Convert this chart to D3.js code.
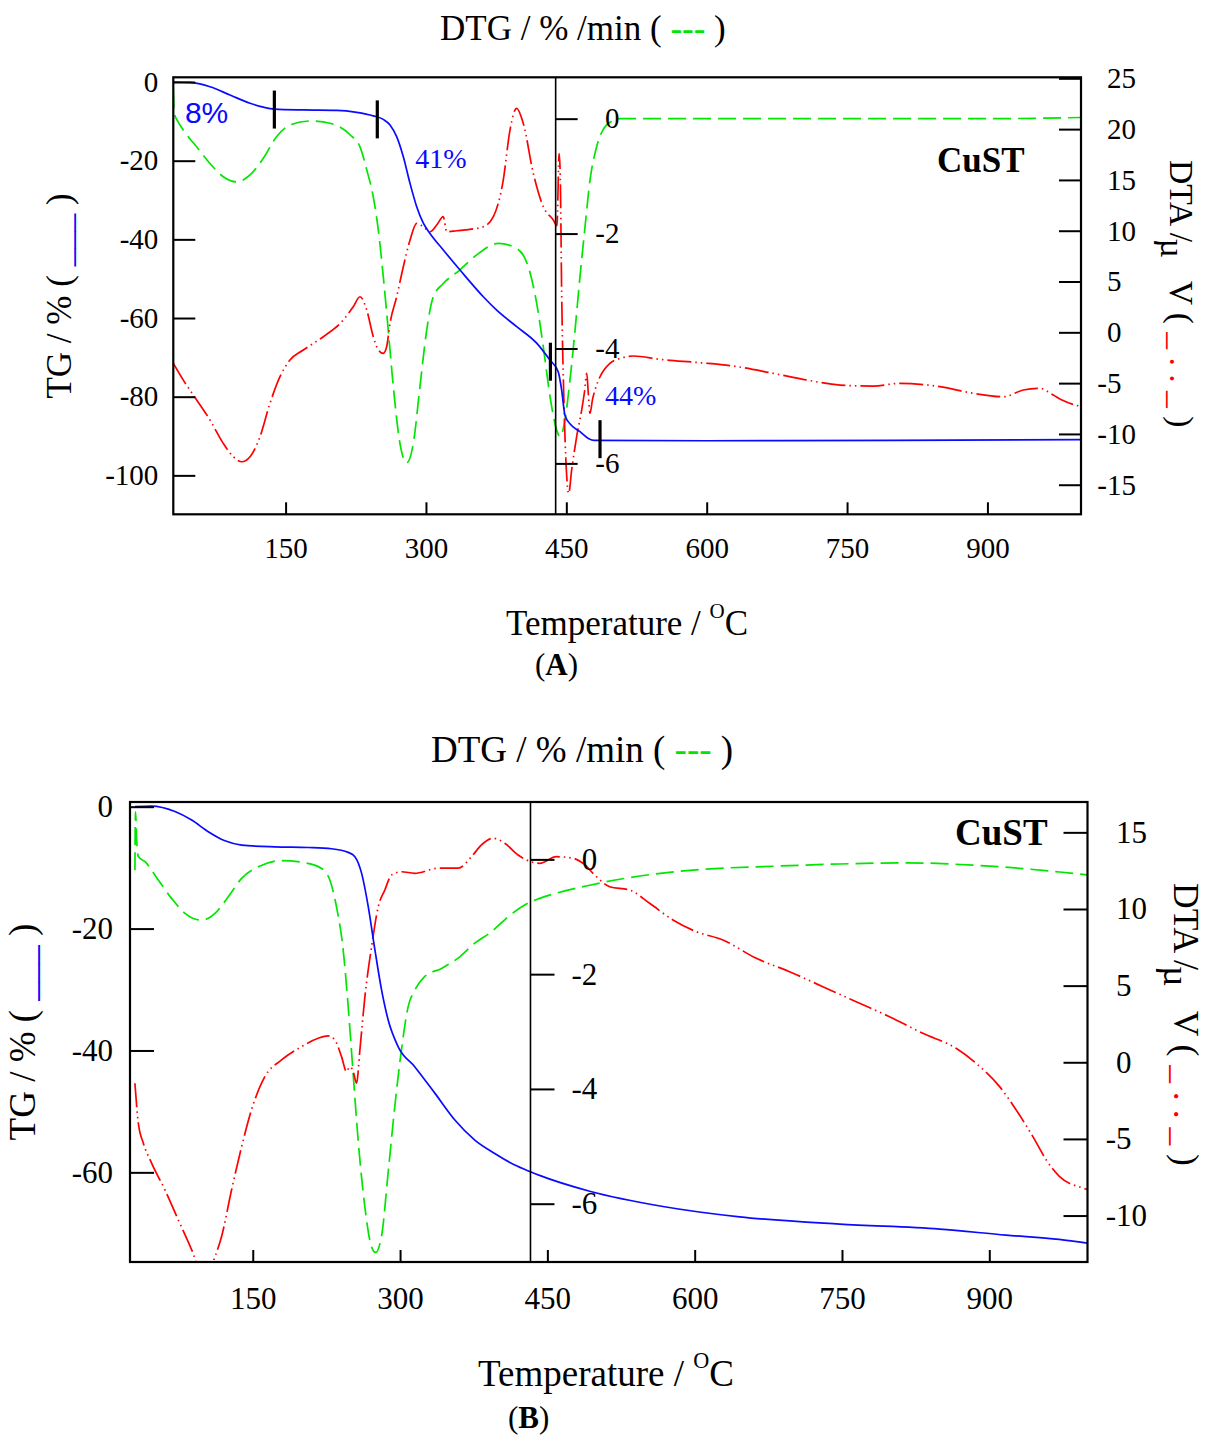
<!DOCTYPE html>
<html>
<head>
<meta charset="utf-8">
<script src="https://cdn.jsdelivr.net/npm/d3@7/dist/d3.min.js"></script>
<style>
  body { margin: 0; background: #fff; }
  svg { display: block; }
  text { font-family: "Liberation Serif", "Times New Roman", serif; fill: #000; }
</style>
</head>
<body>
<svg id="chart" width="1209" height="1437"></svg>
<script>
// ---------- shared ticks ----------
const temperatureTicks = [150, 300, 450, 600, 750, 900];
const dtgTicks = [0, -2, -4, -6];

// ---------- panel A : CuST ----------
const tgTicksA = [0, -20, -40, -60, -80, -100];
const dtaTicksA = [25, 20, 15, 10, 5, 0, -5, -10, -15];

// TG (%) vs temperature (°C)
const tgA = [[30,0],[47.8,-0.1],[69.2,-1.2],[90.6,-3.3],[112,-5.4],[126.2,-6.4],[138,-6.9],[168.9,-7.1],
  [204.6,-7.2],[226,-7.7],[243.7,-8.6],[254.4,-9.5],[261.6,-10.9],[268.7,-13.9],[275.8,-19.0],[283,-25.8],
  [290.1,-31.7],[297.2,-35.9],[304.3,-38.5],[318.5,-42.7],[336.4,-47.8],[361.3,-54.6],[375.6,-58],[397,-62.2],
  [418.3,-66.4],[432.5,-70.7],[441.4,-73.7],[445,-78.3],[448.6,-84.8],[453.9,-86.9],[464.6,-88.9],[473.5,-90.6],
  [480,-91.1],[600,-91.2],[800,-91.1],[1000,-90.9]];

// DTG (%/min)
const dtgA = [[30,0.5],[31,0.09],[35,-0.05],[40.7,-0.2],[55,-0.49],[69.2,-0.78],[83.4,-1.01],[97.7,-1.10],
  [112,-0.98],[126.2,-0.69],[140.5,-0.31],[154.7,-0.11],[176.1,-0.04],[197.5,-0.08],[218.8,-0.28],[229.5,-0.49],
  [236.7,-0.89],[243.7,-1.36],[249.1,-1.94],[254.4,-2.75],[259.7,-3.68],[265.1,-4.66],[272.2,-5.65],[279.4,-5.99],
  [286.5,-5.65],[293.6,-4.66],[300.8,-3.68],[307.8,-3.10],[318.5,-2.87],[336.4,-2.63],[354.2,-2.37],[377.3,-2.17],
  [397,-2.26],[409.4,-2.58],[418.3,-3.21],[425.4,-3.97],[432.6,-4.84],[439.7,-5.42],[443.2,-5.54],[448.6,-5.24],
  [453.9,-4.55],[459.3,-3.68],[464.6,-2.75],[470,-1.88],[475.3,-1.07],[482.4,-0.49],[493.1,-0.11],[507.3,0],
  [700,0],[900,0],[1000,0.02]];

// DTA (µV)
const dtaA = [[30,-3.05],[40.7,-4.7],[55,-6.66],[69.2,-8.63],[83.4,-10.93],[94.1,-12.24],[103.1,-12.74],[112,-12.24],
  [122.6,-10.28],[133.3,-6.99],[144,-4.37],[154.7,-2.73],[168.9,-1.74],[190.3,-0.43],[211.7,1.21],[222.3,2.52],
  [229.5,3.5],[236.7,2.2],[243.7,-0.43],[249.1,-1.74],[254.4,-2.07],[258,-1.42],[261.6,0.89],[268.7,3.5],
  [275.8,6.46],[283,9.08],[290.1,10.73],[297.2,10.39],[304.3,9.9],[311.5,10.56],[318.5,11.38],[322.2,9.9],
  [332.8,10.0],[347,10.14],[361.3,10.39],[372,11.38],[382.6,14.99],[389.8,19.91],[396.9,22.05],[404,20.57],
  [414.7,15.65],[425.4,12.36],[436.1,11.05],[440,10.5],[442.3,17.6],[443.5,15.5],[445,4],[447.5,-7],
  [450,-13.5],[452.5,-15.85],[455.7,-13.55],[461,-10.28],[466.4,-7.65],[469.5,-5.8],[471.8,-4.04],[473.5,-6],
  [475.3,-7.97],[478,-6.6],[480.6,-5.68],[486,-4.37],[496.6,-3.05],[510,-2.5],[521.5,-2.33],[550,-2.66],
  [592.8,-2.99],[628.4,-3.32],[671.2,-4.04],[706.8,-4.69],[742.4,-5.19],[778,-5.29],[806.5,-5.02],[849.3,-5.35],
  [884.9,-6.0],[917,-6.34],[938.3,-5.68],[956.1,-5.51],[970.3,-6.17],[979.7,-6.66],[1000,-7.32]];

// step boundaries on the TG curve [temperature, TG]
const stepMarksA = [[138,-7.0],[248,-9.5],[433,-71.1],[486,-90.8]];
// mass-loss annotations [temperature, TG, text, face]
const lossLabelsA = [[42.4,-10.5,"8%","sans"],[288.5,-21.9,"41%","serif"],[491.3,-82.1,"44%","serif"]];

// ---------- panel B : CuST ----------
const tgTicksB = [0, -20, -40, -60];
const dtaTicksB = [15, 10, 5, 0, -5, -10];

const tgB = [[30,0],[47.1,0.1],[70.8,-0.8],[87.8,-2.2],[104.7,-4.1],[121.7,-5.6],[138.7,-6.3],[172.6,-6.6],
  [206.5,-6.7],[230.3,-6.9],[247.2,-7.5],[254,-8.2],[260.8,-10.9],[267.6,-16.4],[274.4,-23.5],[281.2,-30.1],
  [287.9,-35.0],[298.1,-39.4],[315.1,-42.7],[335.4,-47.0],[355.8,-51.4],[376.1,-54.7],[396.4,-56.9],[416.8,-58.8],
  [432.7,-59.9],[442,-60.5],[493.1,-63.1],[567.7,-65.6],[645.7,-67.3],[747.5,-68.5],[849.3,-69.3],[917.1,-70.3],
  [971.1,-71.0],[1000,-71.6]];

const dtgB = [[30,-0.19],[30.6,0.83],[31.8,0.33],[33.5,0.05],[40.3,-0.04],[53.8,-0.36],[67.4,-0.68],[81,-0.94],
  [98,-1.06],[111.5,-0.94],[125.1,-0.65],[138.7,-0.33],[155.6,-0.13],[179.4,-0.02],[203.1,-0.06],[220.1,-0.16],
  [228.5,-0.36],[235.3,-0.83],[242.1,-1.58],[247.2,-2.57],[252.2,-3.73],[257.3,-4.89],[264.1,-6.05],[270.9,-6.75],
  [275,-6.85],[281.1,-6.57],[287.8,-5.47],[294.6,-4.31],[301.4,-3.32],[308.2,-2.57],[315,-2.28],[325.2,-2.04],
  [342.2,-1.90],[359.1,-1.72],[376.1,-1.46],[393.1,-1.26],[410,-1.0],[432.8,-0.74],[442.2,-0.68],[493.1,-0.45],
  [544,-0.29],[611.9,-0.17],[679.6,-0.12],[747.5,-0.08],[815.4,-0.06],[883.2,-0.10],[934,-0.16],[971.7,-0.22],
  [1000,-0.27]];

const dtaB = [[30,-1.37],[33.5,-3.98],[38.6,-5.28],[47.1,-6.59],[60.6,-8.33],[74.2,-10.29],[87.8,-12.24],
  [95,-13.4],[101,-13.8],[107,-13.4],[112,-12.6],[118.2,-11.38],[128.4,-8.33],[138.7,-5.5],[148.7,-3.11],
  [162.3,-0.94],[179.3,0.15],[199.7,1.02],[216.6,1.57],[226.8,1.72],[233.6,1.45],[240.4,0.37],[245.5,-0.61],
  [248.9,-0.29],[252.3,-0.61],[255.7,-1.37],[259.1,0.8],[264.2,4.28],[271,7.54],[277.8,10.15],[284.5,11.24],
  [291.3,12.22],[301.5,12.43],[315,12.33],[338.8,12.66],[359.1,12.66],[372.7,13.41],[382.9,14.18],[394.7,14.61],
  [406.6,14.29],[420.2,13.52],[432.8,13.09],[442.2,12.98],[459.2,13.41],[476.1,13.31],[486.3,12.98],[499.9,12.11],
  [513.4,11.45],[533.8,11.24],[554.1,10.37],[577.9,9.28],[601.6,8.52],[628.7,7.98],[662.7,6.78],[696.6,5.91],
  [730.5,4.93],[764.4,3.95],[798.4,2.97],[832.3,1.89],[866.2,0.91],[886.6,-0.07],[910.5,-1.59],[927.4,-3.11],
  [944.4,-4.85],[958,-6.37],[971.6,-7.46],[995,-8.2],[1000,-8.3]];

// ---------- drawing ----------
const svg = d3.select("#chart");
const FONT = '"Liberation Serif", "Times New Roman", serif';
const SANS = '"Liberation Sans", Arial, sans-serif';
const BLUE = "#0a0aff", GREEN = "#00e600", RED = "#ff0000";

function textWidth(str, size) {
  const t = svg.append("text").attr("font-size", size).text(str);
  const w = t.node().getComputedTextLength();
  t.remove();
  return w;
}

function drawPanel(p) {
  const g = svg.append("g");
  const x = d3.scaleLinear().domain(p.tDomain).range([p.left, p.right]);
  const yTG = d3.scaleLinear().domain(p.tgDomain).range([p.bottom, p.top]);
  const yDTG = d3.scaleLinear().domain(p.dtgDomain).range([p.bottom, p.top]);
  const yDTA = d3.scaleLinear().domain(p.dtaDomain).range([p.bottom, p.top]);

  const clipId = "clip-" + p.id;
  svg.append("clipPath").attr("id", clipId).append("rect")
    .attr("x", p.left).attr("y", p.top)
    .attr("width", p.right - p.left).attr("height", p.bottom - p.top);

  const plot = g.append("g").attr("clip-path", `url(#${clipId})`);
  const lineFor = ys => d3.line().x(d => x(d[0])).y(d => ys(d[1])).curve(d3.curveMonotoneX);

  plot.append("path").datum(p.dtg).attr("d", lineFor(yDTG))
    .attr("fill", "none").attr("stroke", GREEN).attr("stroke-width", 1.7)
    .attr("stroke-dasharray", "18,7");
  plot.append("path").datum(p.dta).attr("d", lineFor(yDTA))
    .attr("fill", "none").attr("stroke", RED).attr("stroke-width", 1.7)
    .attr("stroke-dasharray", "24,4,1.5,4,1.5,4");
  plot.append("path").datum(p.tg).attr("d", lineFor(yTG))
    .attr("fill", "none").attr("stroke", BLUE).attr("stroke-width", 1.7);

  const fmt = d => String(d);
  const styleAxis = s => {
    s.select(".domain").remove();
    s.attr("font-family", FONT).attr("font-size", p.tickFont);
    s.selectAll(".tick line").attr("stroke", "#000").attr("stroke-width", 2);
    s.selectAll(".tick text").attr("fill", "#000").style("font-family", FONT);
  };

  // temperature axis (ticks pointing inward)
  g.append("g").attr("transform", `translate(0,${p.bottom})`)
    .call(d3.axisBottom(x).tickValues(temperatureTicks).tickSize(-p.xTick).tickPadding(p.xPad).tickFormat(fmt))
    .call(styleAxis);

  // TG axis
  g.append("g").attr("transform", `translate(${p.left},0)`)
    .call(d3.axisLeft(yTG).tickValues(p.tgTicks).tickSize(-p.yTick).tickPadding(p.leftPad).tickFormat(fmt))
    .call(styleAxis);

  const minusW = textWidth("-", p.tickFont);

  // DTG axis along the divider
  const divX = x(p.divT);
  g.append("g").attr("transform", `translate(${divX},0)`)
    .call(d3.axisRight(yDTG).tickValues(dtgTicks).tickSize(p.yTick).tickPadding(p.midPad).tickFormat(fmt))
    .call(styleAxis)
    .call(s => s.selectAll(".tick text").attr("x", d => p.yTick + p.midPad - (d < 0 ? minusW : 0)));

  // DTA axis
  g.append("g").attr("transform", `translate(${p.right},0)`)
    .call(d3.axisRight(yDTA).tickValues(p.dtaTicks).tickSize(-p.yTick).tickPadding(p.rightPad).tickFormat(fmt))
    .call(styleAxis)
    .call(s => s.selectAll(".tick text").attr("x", d => p.rightPad - (d < 0 ? minusW : 0)));

  // frame and divider
  g.append("rect").attr("x", p.left).attr("y", p.top)
    .attr("width", p.right - p.left).attr("height", p.bottom - p.top)
    .attr("fill", "none").attr("stroke", "#000").attr("stroke-width", 2.2);
  g.append("line").attr("x1", divX).attr("x2", divX).attr("y1", p.top).attr("y2", p.bottom)
    .attr("stroke", "#000").attr("stroke-width", 1.6);

  // step markers and mass-loss labels
  if (p.marks) {
    g.selectAll("line.mark").data(p.marks).join("line").attr("class", "mark")
      .attr("x1", d => x(d[0])).attr("x2", d => x(d[0]))
      .attr("y1", d => yTG(d[1]) - 19).attr("y2", d => yTG(d[1]) + 19)
      .attr("stroke", "#000").attr("stroke-width", 3.2);
  }
  if (p.losses) {
    g.selectAll("text.loss").data(p.losses).join("text").attr("class", "loss")
      .attr("x", d => x(d[0]))
      .attr("y", d => yTG(d[1]))
      .style("font-family", d => d[3] === "sans" ? SANS : FONT)
      .attr("font-size", d => d[3] === "sans" ? 30 : 28)
      .style("fill", BLUE)
      .text(d => d[2]);
  }

  // sample name
  g.append("text").attr("x", p.nameX).attr("y", p.nameY)
    .attr("font-size", p.nameFont).attr("font-weight", "bold").text("CuST");

  // top title (DTG axis)
  const t = g.append("text").attr("x", p.titleX).attr("y", p.titleY).attr("font-size", p.labelFont);
  t.append("tspan").text("DTG / % /min ( ");
  t.append("tspan").style("fill", GREEN).text("---");
  t.append("tspan").text(" )");

  // temperature label
  const xl = g.append("text").attr("x", p.xLabelX).attr("y", p.xLabelY).attr("font-size", p.labelFont);
  xl.append("tspan").text("Temperature / ");
  xl.append("tspan").attr("font-size", p.labelFont * 0.6).attr("dy", -p.labelFont * 0.48).text("O");
  xl.append("tspan").attr("dy", p.labelFont * 0.48).text("C");

  // panel letter
  const pl = g.append("text").attr("x", p.letterX).attr("y", p.letterY).attr("font-size", p.letterFont);
  pl.append("tspan").text("(");
  pl.append("tspan").attr("font-weight", "bold").text(p.letter);
  pl.append("tspan").text(")");

  // TG label (left, rotated)
  const yl = g.append("text").attr("text-anchor", "middle").attr("font-size", p.labelFont)
    .attr("transform", `translate(${p.tgLabelX},${p.tgLabelY}) rotate(-90)`);
  yl.append("tspan").text("TG / % ( ");
  yl.append("tspan").style("fill", BLUE).text("___");
  yl.append("tspan").text(" )");

  // DTA label (right, rotated)
  const fs = p.labelFont * 0.96;
  const rl = g.append("text").attr("font-size", fs)
    .attr("transform", `translate(${p.dtaLabelX},${p.dtaLabelY}) rotate(90)`);
  rl.append("tspan").text("DTA / ");
  rl.append("tspan").attr("dx", -0.36 * fs).attr("dy", 0.27 * fs).text("µ");
  rl.append("tspan").attr("dx", 0.68 * fs).attr("dy", -0.27 * fs).text("V ( ");
  rl.append("tspan").style("fill", RED).text("_ . . _");
  rl.append("tspan").text(" )");
}

drawPanel({
  id: "A", letter: "A",
  left: 173.3, right: 1081, top: 77.3, bottom: 514.3,
  tDomain: [30, 1000], tgDomain: [-109.9, 1.2], dtgDomain: [-6.886, 0.72], dtaDomain: [-17.91, 25.1],
  divT: 438.6,
  tg: tgA, dtg: dtgA, dta: dtaA, tgTicks: tgTicksA, dtaTicks: dtaTicksA,
  marks: stepMarksA, losses: lossLabelsA,
  tickFont: 29, xTick: 12, yTick: 22, xPad: 23, leftPad: 15, midPad: 27.3, rightPad: 26,
  labelFont: 35, letterFont: 31,
  titleX: 440, titleY: 40, xLabelX: 506, xLabelY: 635, letterX: 535, letterY: 675,
  tgLabelX: 71, tgLabelY: 296, dtaLabelX: 1170, dtaLabelY: 160,
  nameX: 937, nameY: 172, nameFont: 35
});

drawPanel({
  id: "B", letter: "B",
  left: 130, right: 1087.5, top: 802, bottom: 1262,
  tDomain: [25, 1000], tgDomain: [-74.71, 0.77], dtgDomain: [-7.016, 1.0], dtaDomain: [-13.03, 16.98],
  divT: 432.8,
  tg: tgB, dtg: dtgB, dta: dtaB, tgTicks: tgTicksB, dtaTicks: dtaTicksB,
  tickFont: 31, xTick: 12, yTick: 24, xPad: 24.5, leftPad: 17, midPad: 27.3, rightPad: 28.5,
  labelFont: 37, letterFont: 31,
  titleX: 431, titleY: 762, xLabelX: 478, xLabelY: 1386, letterX: 508, letterY: 1428,
  tgLabelX: 35, tgLabelY: 1032, dtaLabelX: 1174, dtaLabelY: 883,
  nameX: 955, nameY: 845, nameFont: 37
});
</script>
</body>
</html>
